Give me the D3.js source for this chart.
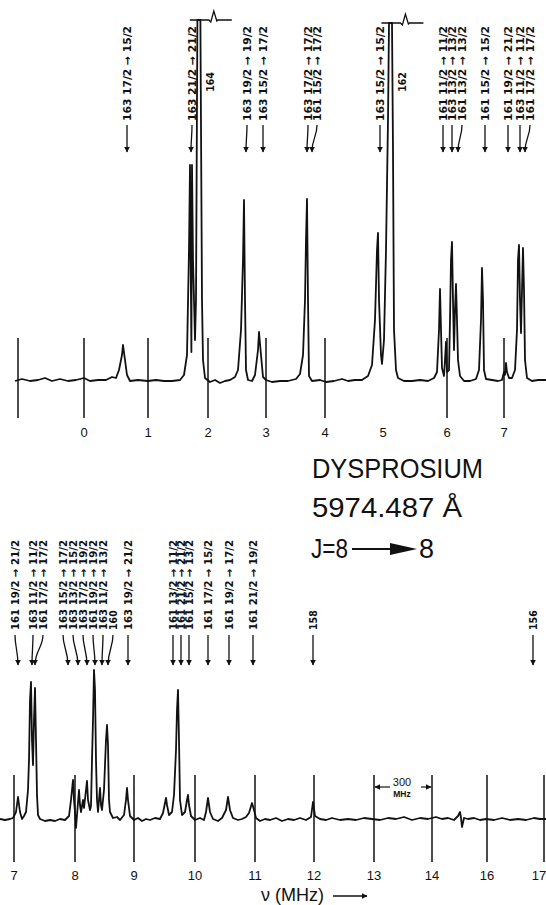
<!DOCTYPE html>
<html>
<head>
  <meta charset="utf-8">
  <title></title>
  <style type="text/css">
    body { margin: 0; background: #fff; }
    svg { display: block; }
    .note { font-family: "DejaVu Sans Condensed", "DejaVu Sans", sans-serif; font-weight: bold; font-size: 10.5px; fill: #111; }
    .tick-label { font-family: "Liberation Sans", Arial, sans-serif; font-size: 13px; fill: #111; }
    .title { font-family: "Liberation Sans", Arial, sans-serif; font-size: 27px; fill: #111; }
  </style>
</head>
<body>
<div id="my_dataviz"></div>
<script src="https://cdnjs.cloudflare.com/ajax/libs/d3/7.8.5/d3.min.js"></script>
<script type="text/javascript">

  // frequency in MHz (marker "0" = 0), intensity in arbitrary units
  var topTrace = [[-345,-1],[-310,1],[-270,-1],[-230,0],[-195,2],[-160,-1],[-120,1],[-80,-1],[-40,0],[0,2],
    [30,-1],[70,0],[110,0],[140,3],[160,2],[175,10],[190,25],[195,35],[205,20],[215,5],[230,-1],[270,0],
    [320,-1],[360,0],[400,-1],[440,-1],[480,0],[500,5],[515,25],[525,130],[530,215],[535,80],[537,28],
    [540,215],[545,120],[555,40],[560,80],[567,360],[582,360],[590,80],[595,20],[605,2],[630,-2],[655,0],
    [680,-3],[705,-1],[730,0],[755,3],[770,10],[785,50],[795,120],[800,180],[805,80],[810,10],[820,0],
    [840,-1],[855,5],[870,30],[875,48],[885,25],[895,3],[910,0],[940,-2],[980,-1],[1020,-1],[1060,1],
    [1080,6],[1095,25],[1105,80],[1110,140],[1115,181],[1120,80],[1125,4],[1140,-1],[1180,0],[1210,-2],
    [1250,-1],[1290,1],[1320,-1],[1355,0],[1390,0],[1420,4],[1440,15],[1455,60],[1465,130],[1470,147],
    [1475,80],[1485,25],[1490,16],[1500,40],[1510,130],[1520,260],[1525,357],[1540,357],[1545,230],
    [1550,50],[1560,10],[1570,2],[1600,-1],[1640,-1],[1680,0],[1720,-1],[1750,2],[1765,8],[1775,50],
    [1780,91],[1785,50],[1790,12],[1800,4],[1805,20],[1810,38],[1815,8],[1825,10],[1830,60],[1835,120],
    [1840,138],[1845,80],[1850,30],[1855,70],[1860,96],[1865,60],[1870,20],[1880,4],[1900,-1],[1930,-1],
    [1960,1],[1975,10],[1985,60],[1990,112],[1995,80],[2000,10],[2010,1],[2040,0],[2070,-1],[2090,0],
    [2100,8],[2105,5],[2110,17],[2115,8],[2125,2],[2140,2],[2155,10],[2165,50],[2170,120],[2175,135],
    [2180,80],[2185,47],[2190,90],[2195,132],[2200,90],[2205,20],[2215,2],[2240,-1],[2270,0],[2310,0]];

  var bottomTrace = [[2030,0],[2055,-1],[2080,0],[2095,1],[2110,7],[2120,22],[2130,7],[2140,0],[2150,3],
    [2160,7],[2170,29],[2175,59],[2180,119],[2185,137],[2190,79],[2195,54],[2200,99],[2205,131],[2210,79],
    [2215,24],[2220,4],[2230,0],[2255,-2],[2280,-1],[2305,-2],[2330,0],[2355,-1],[2375,3],[2385,19],
    [2395,39],[2400,19],[2405,7],[2410,-9],[2415,4],[2425,29],[2430,14],[2435,7],[2445,19],[2450,11],
    [2460,29],[2465,38],[2470,19],[2480,9],[2485,13],[2490,59],[2495,99],[2500,149],[2505,129],[2510,59],
    [2515,19],[2520,7],[2525,19],[2530,31],[2535,14],[2540,9],[2550,29],[2560,79],[2565,94],[2570,74],
    [2575,19],[2580,7],[2595,1],[2615,2],[2630,-1],[2650,4],[2660,19],[2665,31],[2670,19],[2680,3],
    [2700,-1],[2720,1],[2740,-2],[2760,0],[2780,-1],[2805,1],[2830,0],[2845,6],[2855,16],[2860,21],
    [2865,14],[2875,4],[2890,7],[2900,24],[2910,69],[2915,109],[2920,129],[2925,79],[2930,19],[2940,4],
    [2955,7],[2965,19],[2970,24],[2975,14],[2985,3],[3005,-1],[3030,1],[3050,-1],[3060,7],[3070,21],
    [3080,7],[3095,0],[3120,-2],[3140,1],[3160,9],[3170,22],[3180,9],[3195,1],[3220,-1],[3240,0],
    [3260,2],[3275,6],[3290,16],[3300,9],[3310,1],[3330,-2],[3355,0],[3380,-1],[3410,1],[3440,-2],
    [3470,0],[3500,-1],[3530,1],[3560,-1],[3585,2],[3595,17],[3605,3],[3630,0],[3660,-1],[3690,1],
    [3730,-1],[3770,0],[3810,-1],[3850,1],[3890,0],[3930,-1],[3970,1],[4010,0],[4050,2],[4090,-1],
    [4130,1],[4170,0],[4210,2],[4240,0],[4270,1],[4300,-1],[4320,3],[4330,7],[4335,1],[4340,-8],
    [4350,1],[4370,0],[4400,1],[4430,-1],[4460,0],[4500,-1],[4540,1],[4580,-1],[4620,0],[4660,-1],
    [4700,1],[4730,0],[4760,0]];

  // 300 MHz frequency markers
  var topMarkers = [-330, 0, 320, 620, 910, 1205, 1815, 2100];
  var topTickPos = [0, 320, 620, 910, 1205, 1495, 1815, 2100];
  var topTickLabels = ["0", "1", "2", "3", "4", "5", "6", "7"];
  var bottomMarkers = [2100, 2405, 2700, 3005, 3305, 3600, 3900, 4190, 4465, 4750];
  var bottomTickLabels = ["7", "8", "9", "10", "11", "12", "13", "14", "16", "17"];

  // [label position, arrow tip, isotope, F from, F to]
  var topNotes = [
    [215, 215, "163", "17/2", "15/2"],
    [540, 535, "163", "21/2", "21/2"],
    [815, 810, "163", "19/2", "19/2"],
    [895, 895, "163", "15/2", "17/2"],
    [1120, 1115, "163", "17/2", "17/2"],
    [1165, 1140, "161", "15/2", "17/2"],
    [1480, 1480, "163", "15/2", "15/2"],
    [1795, 1795, "161", "11/2", "11/2"],
    [1840, 1840, "163", "13/2", "13/2"],
    [1890, 1870, "161", "13/2", "13/2"],
    [2005, 2005, "161", "15/2", "15/2"],
    [2120, 2120, "161", "19/2", "21/2"],
    [2180, 2180, "163", "11/2", "11/2"],
    [2230, 2205, "161", "17/2", "17/2"]
  ];
  var bottomNotes = [
    [2105, 2120, "161", "19/2", "21/2"],
    [2195, 2190, "163", "11/2", "11/2"],
    [2245, 2205, "161", "17/2", "17/2"],
    [2345, 2370, "163", "15/2", "17/2"],
    [2395, 2420, "163", "13/2", "15/2"],
    [2445, 2465, "163", "17/2", "19/2"],
    [2495, 2505, "161", "19/2", "19/2"],
    [2545, 2540, "163", "11/2", "13/2"],
    [2595, 2570, "160", null, null],
    [2670, 2670, "163", "19/2", "21/2"],
    [2895, 2895, "161", "13/2", "11/2"],
    [2935, 2935, "161", "21/2", "21/2"],
    [2975, 2975, "161", "15/2", "13/2"],
    [3070, 3070, "161", "17/2", "15/2"],
    [3175, 3175, "161", "19/2", "17/2"],
    [3295, 3295, "161", "21/2", "19/2"],
    [3595, 3595, "158", null, null],
    [4695, 4695, "156", null, null]
  ];
  // even isotopes written alongside the off-scale peaks
  var topPeakTags = [[630, "164"], [1590, "162"]];
  var clippedPeaks = [[574, 360], [1532, 357]];

  var titleLines = ["DYSPROSIUM", "5974.487 Å", "J=8", "8"];

  var W = 546, H = 905;

  var svg = d3.select("#my_dataviz")
    .append("svg")
      .attr("width", W)
      .attr("height", H);

  svg.append("rect").attr("width", W).attr("height", H).attr("fill", "#fff");

  svg.append("defs").append("marker")
      .attr("id", "head")
      .attr("viewBox", "0 0 10 10")
      .attr("refX", 9).attr("refY", 5)
      .attr("markerUnits", "userSpaceOnUse")
      .attr("markerWidth", 6).attr("markerHeight", 7)
      .attr("orient", "auto")
    .append("path")
      .attr("d", "M0,0 L10,5 L0,10 z")
      .attr("fill", "#111");

  var xTop = d3.scaleLinear().domain([0, 2100]).range([84, 504]);
  var yTop = d3.scaleLinear().domain([0, 360]).range([380, 20]);
  var xBot = d3.scaleLinear().domain([2100, 4760]).range([14, 546]);
  var yBot = d3.scaleLinear().domain([0, 360]).range([819, 459]);

  function drawPanel(x, y, trace, markers, tickPos, tickLabels, mTop, mBot, labelY) {
    var g = svg.append("g");

    g.selectAll(".marker")
      .data(markers)
      .enter().append("line")
        .attr("x1", function(d) { return x(d); })
        .attr("x2", function(d) { return x(d); })
        .attr("y1", y(mTop))
        .attr("y2", y(mBot))
        .attr("stroke", "#111")
        .attr("stroke-width", 1.5);

    g.append("path")
      .datum(trace)
      .attr("fill", "none")
      .attr("stroke", "#111")
      .attr("stroke-width", 1.8)
      .attr("stroke-linejoin", "round")
      .attr("d", d3.line()
        .x(function(d) { return x(d[0]); })
        .y(function(d) { return y(d[1]); }));

    g.selectAll(".tick-label")
      .data(tickPos)
      .enter().append("text")
        .attr("class", "tick-label")
        .attr("x", function(d) { return Math.min(x(d), W - 7); })
        .attr("y", labelY)
        .attr("text-anchor", "middle")
        .text(function(d, i) { return tickLabels[i]; });
    return g;
  }

  function drawNotes(x, notes, textBottom, a0, a1, len) {
    var g = svg.append("g");
    notes.forEach(function(n) {
      var xt = x(n[0]), xa = x(n[1]);
      var t = g.append("text")
        .attr("class", "note")
        .attr("transform", "translate(" + xt + "," + textBottom + ") rotate(-90)")
        .attr("dominant-baseline", "central");
      if (n[3]) {
        t.text(n[2] + "  " + n[3] + " → " + n[4])
          .attr("textLength", len)
          .attr("lengthAdjust", "spacingAndGlyphs");
      } else {
        t.text(n[2]);
      }
      var p = xt === xa ? "M" + xt + "," + a0 + "L" + xa + "," + a1
        : "M" + xt + "," + a0 + "C" + xt + "," + (a0 + 12) + " " + xa + "," + (a1 - 14) + " " + xa + "," + a1;
      g.append("path")
        .attr("d", p)
        .attr("fill", "none")
        .attr("stroke", "#111")
        .attr("stroke-width", 1.3)
        .attr("marker-end", "url(#head)");
    });
  }

  drawPanel(xTop, yTop, topTrace, topMarkers, topTickPos, topTickLabels, 42, -38, 437);
  drawPanel(xBot, yBot, bottomTrace, bottomMarkers, bottomMarkers, bottomTickLabels, 44, -43, 880);

  drawNotes(xTop, topNotes, 121, 125, 152, 95);
  drawNotes(xBot, bottomNotes, 630, 635, 665, 90);

  // isotope tags beside the big peaks
  svg.selectAll(".tag")
    .data(topPeakTags)
    .enter().append("text")
      .attr("class", "note")
      .attr("transform", function(d) { return "translate(" + xTop(d[0]) + ",82) rotate(-90)"; })
      .attr("text-anchor", "middle")
      .attr("dominant-baseline", "central")
      .text(function(d) { return d[1]; });

  // broken tops of off-scale peaks
  svg.selectAll(".brk")
    .data(clippedPeaks)
    .enter().append("path")
      .attr("fill", "none")
      .attr("stroke", "#111")
      .attr("stroke-width", 1.3)
      .attr("d", function(d) {
        var cx = xTop(d[0]), cy = yTop(d[1]);
        return "M" + (cx - 9) + "," + cy + "H" + (cx + 10) + "L" + (cx + 12) + "," + (cy + 2)
          + "L" + (cx + 15) + "," + (cy - 9) + "L" + (cx + 18) + "," + (cy + 1) + "L" + (cx + 19) + "," + cy
          + "H" + (cx + 33);
      });

  // 300 MHz scale bracket between markers 13 and 14
  var bx0 = xBot(bottomMarkers[6]), bx1 = xBot(bottomMarkers[7]), by = yBot(32);
  svg.append("path").attr("d", "M" + (bx0 + 16) + "," + by + "H" + (bx0 + 1))
    .attr("stroke", "#111").attr("stroke-width", 1.2).attr("marker-end", "url(#head)");
  svg.append("path").attr("d", "M" + (bx1 - 11) + "," + by + "H" + (bx1 - 1))
    .attr("stroke", "#111").attr("stroke-width", 1.2).attr("marker-end", "url(#head)");
  svg.append("text").attr("class", "tick-label")
    .attr("x", (bx0 + bx1) / 2 - 1).attr("y", by - 1)
    .attr("text-anchor", "middle").style("font-size", "11px").text("300");
  svg.append("text").attr("class", "tick-label")
    .attr("x", (bx0 + bx1) / 2 - 1).attr("y", by + 10)
    .attr("text-anchor", "middle").style("font-size", "8.5px").style("font-weight", "bold").text("MHz");

  // axis title
  svg.append("text").attr("class", "tick-label")
    .attr("x", 261).attr("y", 901)
    .style("font-size", "18px")
    .text("ν (MHz)");
  svg.append("path").attr("d", "M333,896H367")
    .attr("stroke", "#111").attr("stroke-width", 1.5).attr("marker-end", "url(#head)");

  // title block
  svg.append("text").attr("class", "title")
    .attr("x", 312).attr("y", 478)
    .attr("textLength", 171).attr("lengthAdjust", "spacingAndGlyphs")
    .text(titleLines[0]);
  svg.append("text").attr("class", "title")
    .attr("x", 312).attr("y", 517)
    .attr("textLength", 150).attr("lengthAdjust", "spacingAndGlyphs")
    .text(titleLines[1]);
  svg.append("text").attr("class", "title")
    .attr("x", 311).attr("y", 558)
    .attr("textLength", 37).attr("lengthAdjust", "spacingAndGlyphs")
    .text(titleLines[2]);
  svg.append("path").attr("d", "M352,549H394")
    .attr("stroke", "#111").attr("stroke-width", 2);
  svg.append("path").attr("d", "M390,543L417,549L390,555z")
    .attr("fill", "#111");
  svg.append("text").attr("class", "title").attr("x", 419).attr("y", 558).text(titleLines[3]);

</script>
</body>
</html>
